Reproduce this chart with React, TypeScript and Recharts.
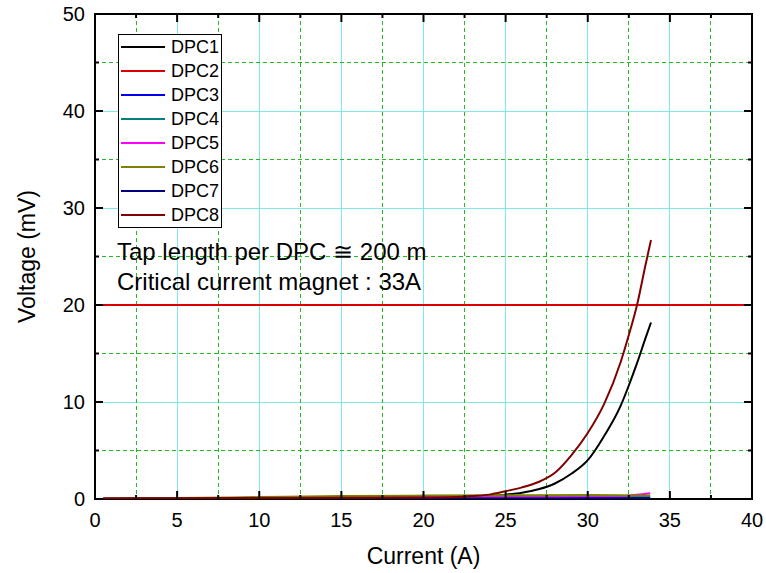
import React from 'react';
import { LineChart, Line, XAxis, YAxis, CartesianGrid, ReferenceArea, Legend, Label } from 'recharts';

// ---- data ----
const SERIES_NAMES = ['DPC1', 'DPC2', 'DPC3', 'DPC4', 'DPC5', 'DPC6', 'DPC7', 'DPC8'];
const SERIES_COLORS = ['#000000', '#dd0000', '#0000ee', '#008080', '#ff00ff', '#808000', '#000080', '#800000'];

// shared current grid (A) for the quenching coils
const CURRENT_HIGH = [0.5, 5, 10, 15, 20, 22, 23, 24, 25, 26, 27, 28, 29, 30, 31, 32, 32.5, 33, 33.5, 33.85];
const DPC1_V = [0.03, 0.05, 0.07, 0.08, 0.1, 0.14, 0.2, 0.3, 0.45, 0.65, 1.0, 1.6, 2.6, 4.0, 6.5, 9.6, 11.7, 14.0, 16.5, 18.2];
const DPC8_V = [0.05, 0.08, 0.1, 0.12, 0.15, 0.2, 0.3, 0.45, 0.8, 1.2, 1.75, 2.7, 4.5, 6.8, 9.8, 14.1, 16.9, 20.0, 24.0, 26.7];

// DPC2 (flat at 20 mV across the range)
const CURRENT_DPC2 = [0, 40];
const DPC2_V = [20, 20];

// shared current grid for the low-voltage coils
const CURRENT_LOW = [0.5, 5, 10, 15, 20, 25, 30, 32, 33, 33.8];
const DPC3_V = [0.02, 0.03, 0.05, 0.06, 0.08, 0.08, 0.1, 0.1, 0.12, 0.15];
const DPC4_V = [0.03, 0.06, 0.1, 0.15, 0.2, 0.22, 0.25, 0.25, 0.28, 0.3];
const DPC5_V = [0.02, 0.05, 0.1, 0.15, 0.2, 0.25, 0.3, 0.32, 0.45, 0.6];
const DPC6_V = [0.05, 0.1, 0.2, 0.3, 0.35, 0.38, 0.4, 0.38, 0.35, 0.35];
const DPC7_V = [0.01, 0.02, 0.03, 0.04, 0.05, 0.05, 0.06, 0.06, 0.07, 0.08];

const X_TICKS = [0, 2.5, 5, 7.5, 10, 12.5, 15, 17.5, 20, 22.5, 25, 27.5, 30, 32.5, 35, 37.5, 40];
const Y_TICKS = [0, 5, 10, 15, 20, 25, 30, 35, 40, 45, 50];
const X_MAJOR_GRID = [5, 10, 15, 20, 25, 30, 35];
const X_MINOR_GRID = [2.5, 7.5, 12.5, 17.5, 22.5, 27.5, 32.5, 37.5];
const Y_MAJOR_GRID = [10, 20, 30, 40];
const Y_MINOR_GRID = [5, 15, 25, 35, 45];

const ANNOTATION_LINES = ['Tap length per DPC \u2245 200 m', 'Critical current magnet : 33A'];

const zip = (xs: number[], ys: number[]) => xs.map((x, i) => ({ I: x, V: ys[i] }));

const SERIES_DATA = [
  zip(CURRENT_HIGH, DPC1_V),
  zip(CURRENT_DPC2, DPC2_V),
  zip(CURRENT_LOW, DPC3_V),
  zip(CURRENT_LOW, DPC4_V),
  zip(CURRENT_LOW, DPC5_V),
  zip(CURRENT_LOW, DPC6_V),
  zip(CURRENT_LOW, DPC7_V),
  zip(CURRENT_HIGH, DPC8_V),
];

// ---- layout ----
const W = 766;
const H = 573;
const M_TOP = 14;
const M_RIGHT = 14;
const Y_AXIS_W = 95;
const X_AXIS_H = 74;
const PLOT_TOP = M_TOP;
const PLOT_RIGHT = W - M_RIGHT;
const FONT = '"Liberation Sans", Arial, sans-serif';

const XTick = (props: any) => {
  const { x, y, payload } = props;
  const v = payload.value;
  const major = v % 5 === 0;
  const len = major ? 8 : 4;
  return (
    <g>
      <line x1={x} y1={y} x2={x} y2={y - len} stroke="#000" strokeWidth={2} />
      <line x1={x} y1={PLOT_TOP} x2={x} y2={PLOT_TOP + len} stroke="#000" strokeWidth={2} />
      {major && (
        <text x={x} y={y + 21} textAnchor="middle" dominantBaseline="central" fontSize={20} fontFamily={FONT} fill="#000">
          {v}
        </text>
      )}
    </g>
  );
};

const YTick = (props: any) => {
  const { x, y, payload } = props;
  const v = payload.value;
  const major = v % 10 === 0;
  const len = major ? 8 : 4;
  return (
    <g>
      <line x1={x} y1={y} x2={x + len} y2={y} stroke="#000" strokeWidth={2} />
      <line x1={PLOT_RIGHT} y1={y} x2={PLOT_RIGHT - len} y2={y} stroke="#000" strokeWidth={2} />
      {major && (
        <text x={x - 10} y={y} textAnchor="end" dominantBaseline="central" fontSize={20} fontFamily={FONT} fill="#000">
          {v}
        </text>
      )}
    </g>
  );
};

const renderLegend = (props: any) => {
  const { payload } = props;
  return (
    <div
      style={{
        border: '1px solid #000',
        background: '#fff',
        width: 102,
        boxSizing: 'content-box',
        fontFamily: FONT,
        fontSize: 18,
        color: '#000',
      }}
    >
      {(payload || []).map((e: any) => (
        <div key={e.value} style={{ display: 'flex', alignItems: 'center', height: 24 }}>
          <svg width={44} height={4} style={{ marginLeft: 2 }}>
            <line x1={0} y1={2} x2={44} y2={2} stroke={e.color} strokeWidth={2} />
          </svg>
          <span style={{ marginLeft: 6, lineHeight: '24px' }}>{e.value}</span>
        </div>
      ))}
    </div>
  );
};

export default function App() {
  return (
    <div style={{ position: 'absolute', left: 0, top: 0, width: W, height: H, background: '#fff' }}>
      <LineChart width={W} height={H} margin={{ top: M_TOP, right: M_RIGHT, bottom: 0, left: 0 }}>
        <CartesianGrid
          horizontalValues={Y_MAJOR_GRID}
          verticalValues={X_MAJOR_GRID}
          stroke="#7fe9e9"
          strokeWidth={1}
          shapeRendering="crispEdges"
        />
        <CartesianGrid
          horizontalValues={Y_MINOR_GRID}
          verticalValues={X_MINOR_GRID}
          stroke="#22bb22"
          strokeWidth={1}
          strokeDasharray="4 3"
          shapeRendering="crispEdges"
        />
        <XAxis
          type="number"
          dataKey="I"
          domain={[0, 40]}
          ticks={X_TICKS}
          interval={0}
          tick={<XTick />}
          tickLine={false}
          tickSize={0}
          tickMargin={0}
          axisLine={false}
          height={X_AXIS_H}
          allowDataOverflow
        >
          <Label
            content={(p: any) => {
              const vb = p.viewBox || {};
              return (
                <text
                  x={vb.x + vb.width / 2}
                  y={vb.y + 57}
                  textAnchor="middle"
                  dominantBaseline="central"
                  fontSize={23}
                  fontFamily={FONT}
                  fill="#000"
                >
                  Current (A)
                </text>
              );
            }}
          />
        </XAxis>
        <YAxis
          type="number"
          domain={[0, 50]}
          ticks={Y_TICKS}
          interval={0}
          tick={<YTick />}
          tickLine={false}
          tickSize={0}
          tickMargin={0}
          axisLine={false}
          width={Y_AXIS_W}
          allowDataOverflow
        >
          <Label
            content={(p: any) => {
              const vb = p.viewBox || {};
              const cx = vb.x + 27;
              const cy = vb.y + vb.height / 2;
              return (
                <text
                  x={cx}
                  y={cy}
                  transform={`rotate(-90 ${cx} ${cy})`}
                  textAnchor="middle"
                  dominantBaseline="central"
                  fontSize={23}
                  fontFamily={FONT}
                  fill="#000"
                >
                  Voltage (mV)
                </text>
              );
            }}
          />
        </YAxis>
        {SERIES_NAMES.map((name, i) => (
          <Line
            key={name}
            name={name}
            data={SERIES_DATA[i]}
            dataKey="V"
            stroke={SERIES_COLORS[i]}
            strokeWidth={2}
            dot={false}
            activeDot={false}
            type="monotone"
            isAnimationActive={false}
          />
        ))}
        <ReferenceArea x1={0} x2={40} y1={0} y2={50} fill="none" stroke="#000" strokeWidth={2} fillOpacity={0} />
        <Legend
          layout="vertical"
          align="center"
          verticalAlign="middle"
          content={renderLegend}
          wrapperStyle={{ left: 118, top: 34, width: 'auto', height: 'auto' }}
        />
      </LineChart>
      <div
        style={{
          position: 'absolute',
          left: 117,
          top: 237,
          fontFamily: FONT,
          fontSize: 24,
          lineHeight: '30px',
          color: '#000',
          whiteSpace: 'nowrap',
        }}
      >
        {ANNOTATION_LINES.map((t) => (
          <div key={t}>{t}</div>
        ))}
      </div>
    </div>
  );
}
